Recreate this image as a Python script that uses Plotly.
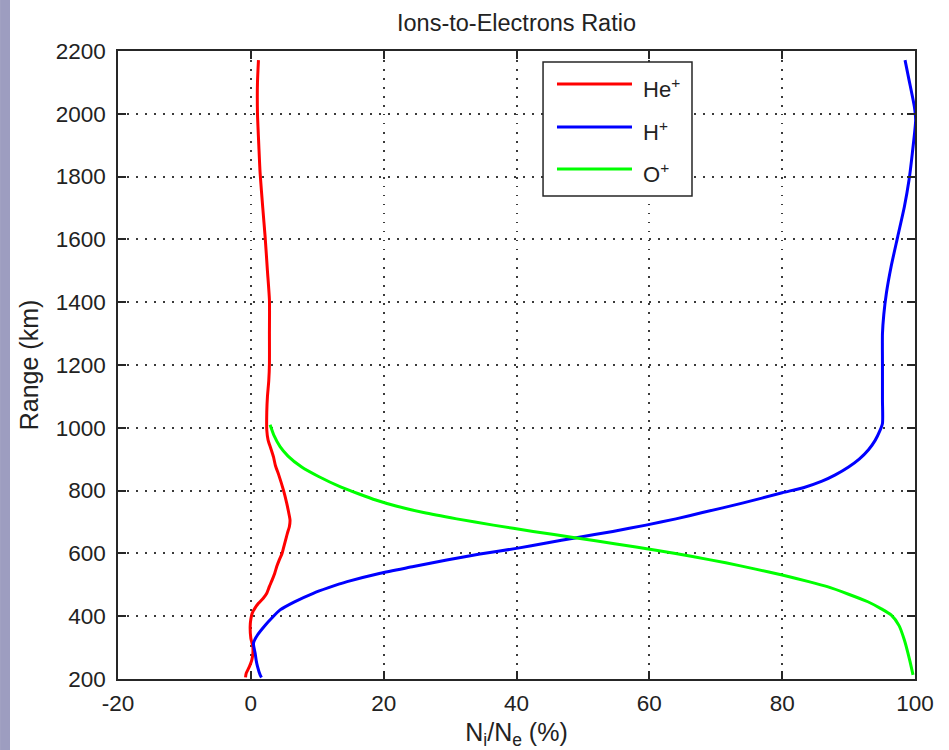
import plotly.graph_objects as go

# Altitude profiles (km) and ion fractions N_i/N_e (%)
he_alt = [205, 218, 240, 261, 280, 303, 330, 367, 390, 409, 425, 441, 458, 473,
          495, 515, 537, 558, 580, 600, 616, 640, 664, 685, 706, 730, 760, 802,
          850, 880, 908, 935, 961, 993, 1050, 1099, 1150, 1205, 1300, 1407,
          1500, 1609, 1700, 1810, 1900, 2002, 2100, 2171]
he_val = [-0.8, -0.7, -0.2, 0.15, 0.3, 0.3, 0.0, -0.1, 0.0, 0.2, 0.6, 1.15, 1.9, 2.4,
          2.8, 3.2, 3.6, 3.9, 4.3, 4.7, 4.9, 5.2, 5.5, 5.8, 5.9, 5.7, 5.4, 4.9,
          4.2, 3.7, 3.4, 3.0, 2.6, 2.4, 2.4, 2.5, 2.7, 2.8, 2.8, 2.8,
          2.5, 2.15, 1.8, 1.4, 1.2, 1.0, 1.0, 1.15]

h_alt = [205, 213, 240, 260, 282, 314, 340, 372, 395, 420, 445, 473, 490, 510,
         537, 558, 579, 598, 616, 633, 650, 670, 690, 710, 730, 760, 793, 810,
         830, 850, 875, 900, 930, 960, 990, 1014, 1089, 1200, 1300, 1360, 1430,
         1513, 1609, 1704, 1789, 1875, 1980, 2023, 2108, 2171]
h_val = [1.6, 1.4, 1.0, 0.8, 0.65, 0.4, 1.0, 2.2, 3.2, 4.4, 6.5, 9.4, 11.6, 14.5,
         19.5, 24.5, 29.5, 34.5, 40.0, 44.5, 49.0, 54.5, 59.5, 64.0, 68.0, 74.0, 80.0, 83.3,
         86.0, 88.0, 90.0, 91.6, 93.0, 94.0, 94.7, 95.1, 95.1, 95.1, 95.1, 95.3, 95.7,
         96.4, 97.4, 98.4, 99.1, 99.6, 100.1, 99.9, 99.1, 98.5]

o_alt = [213, 260, 324, 370, 404, 425, 446, 470, 494, 510, 531, 550, 570, 590,
         610, 630, 650, 670, 690, 710, 730, 750, 770, 790, 812, 845, 876, 910,
         940, 975, 1010]
o_val = [99.7, 99.2, 98.4, 97.6, 96.4, 94.8, 92.9, 90.0, 86.8, 84.0, 80.0, 76.0, 71.5, 66.5,
         61.0, 55.0, 48.8, 42.5, 36.5, 31.0, 26.0, 22.0, 18.8, 16.2, 13.5, 10.2, 7.6, 5.6,
         4.4, 3.5, 2.9]

series_names = ["He<sup>+</sup>", "H<sup>+</sup>", "O<sup>+</sup>"]
series_colors = ["#ff0000", "#0000ff", "#00ff00"]
series_data = [(he_val, he_alt), (h_val, h_alt), (o_val, o_alt)]

x_ticks = [-20, 0, 20, 40, 60, 80, 100]
y_ticks = [200, 400, 600, 800, 1000, 1200, 1400, 1600, 1800, 2000, 2200]

FONT = "Liberation Sans, Arial, sans-serif"
TXT = "#222222"
AX = "#262626"

fig = go.Figure()
for name, color, (xs, ys) in zip(series_names, series_colors, series_data):
    fig.add_trace(go.Scatter(x=xs, y=ys, mode="lines", name=name,
                             line=dict(color=color, width=3, shape="spline", smoothing=0.6),
                             showlegend=False))

axis_common = dict(
    showline=True, linecolor=AX, linewidth=1.5, mirror="ticks",
    ticks="inside", ticklen=8, tickwidth=1.5, tickcolor=AX,
    showgrid=True, gridcolor="#3a3a3a", gridwidth=1.5, griddash="1.5px,7.5px",
    zeroline=False, automargin=False,
    tickfont=dict(family=FONT, size=22.5, color=TXT),
)

fig.update_xaxes(range=[-20, 100], tickvals=x_ticks, ticktext=[str(v) for v in x_ticks],
                 title=dict(text="N<sub>i</sub>/N<sub>e</sub> (%)",
                            font=dict(family=FONT, size=25, color=TXT), standoff=10),
                 ticklabelstandoff=3, **axis_common)
fig.update_yaxes(range=[200, 2200], tickvals=y_ticks, ticktext=[str(v) for v in y_ticks],
                 title=dict(text="Range (km)", font=dict(family=FONT, size=25, color=TXT),
                            standoff=10),
                 ticklabelstandoff=6, **axis_common)

# Side stripe and legend box drawn in paper coordinates
shapes = [
    dict(type="rect", xref="paper", yref="paper", x0=-0.148, x1=-0.1355,
         y0=-0.12, y1=1.09, fillcolor="#9d9dc0", line=dict(width=0), layer="above"),
    dict(type="rect", xref="paper", yref="paper", x0=0.5333, x1=0.7202,
         y0=0.7691, y1=0.9825, fillcolor="white", line=dict(color=AX, width=1.5),
         layer="above"),
]
annotations = []
legend_rows = [0.9475, 0.8790, 0.8121]
for name, color, yrow in zip(series_names, series_colors, legend_rows):
    shapes.append(dict(type="line", xref="paper", yref="paper", x0=0.5508, x1=0.6449,
                       y0=yrow, y1=yrow, line=dict(color=color, width=3), layer="above"))
    annotations.append(dict(xref="paper", yref="paper", x=0.6562, y=yrow - 0.006,
                            xanchor="left", yanchor="middle", showarrow=False, text=name,
                            font=dict(family=FONT, size=22, color=TXT)))

fig.update_layout(
    width=949, height=750, autosize=False,
    margin=dict(l=118, r=34, t=51, b=71, autoexpand=False),
    paper_bgcolor="white", plot_bgcolor="white",
    title=dict(text="Ions-to-Electrons Ratio", x=0.5, xref="paper", y=0.97,
               yanchor="middle", font=dict(family=FONT, size=23.5, color=TXT)),
    shapes=shapes, annotations=annotations,
)

fig.write_html("out.html")
